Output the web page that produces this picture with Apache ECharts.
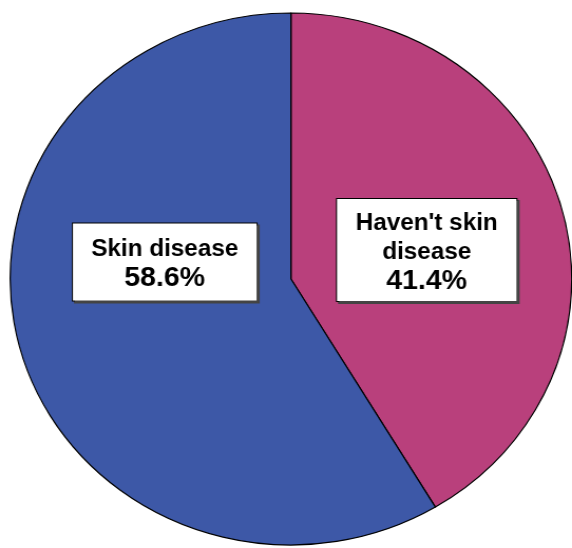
<!DOCTYPE html>
<html>
<head>
<meta charset="utf-8">
<script src="https://cdn.jsdelivr.net/npm/echarts@6.0.0/dist/echarts.min.js"></script>
<style>
  html, body { margin: 0; padding: 0; background: #fff; overflow: hidden; }
  /* the source picture is a slightly squashed pie, so draw a circle and stretch it */
  #chart { width: 542px; height: 548px; transform: scaleX(1.0554); transform-origin: 0 0; }
</style>
</head>
<body>
<div id="chart"></div>
<script>
// clockwise from 12 o'clock
const categories = ["Haven't skin\ndisease", 'Skin disease']
const percents = [41.4, 58.6]
const colors = ['#B9407C', '#3D58A7']
// label box centres, as fraction of the chart box
const labelSpots = [[0.746, 0.456], [0.288, 0.478]]

const chart = echarts.init(document.getElementById('chart'))

chart.setOption({
  animation: false,
  series: [{
    type: 'pie',
    center: [275.7, 279],
    radius: 266,
    startAngle: 90,
    clockwise: true,
    silent: true,
    emphasis: { disabled: true },
    labelLine: { show: false },
    itemStyle: { borderColor: '#000', borderWidth: 1.2 },
    label: {
      position: 'inside',
      backgroundColor: '#fff',
      borderColor: '#000',
      borderWidth: 1,
      shadowColor: '#444',
      shadowOffsetX: 2,
      shadowOffsetY: 2,
      shadowBlur: 0,
      align: 'center',
      formatter: p => `{n|${p.name}}\n{v|${p.value.toFixed(1)}%}`,
      rich: {
        n: { fontFamily: 'Liberation Sans, Arial, sans-serif', fontWeight: 'bold', fontSize: 23, lineHeight: 29, color: '#000', align: 'center' },
        v: { fontFamily: 'Liberation Sans, Arial, sans-serif', fontWeight: 'bold', fontSize: 27, lineHeight: 29, color: '#000', align: 'center' }
      }
    },
    labelLayout: p => {
      const s = labelSpots[p.dataIndex]
      return { x: s[0] * 542, y: s[1] * 548, align: 'center', verticalAlign: 'middle' }
    },
    data: categories.map((c, i) => ({
      name: c,
      value: percents[i],
      itemStyle: { color: colors[i] },
      label: i === 0
        ? { width: 146, padding: [10, 12, 5, 12] }
        : { width: 150, padding: [12, 12, 7, 12] }
    }))
  }]
})
</script>
</body>
</html>
